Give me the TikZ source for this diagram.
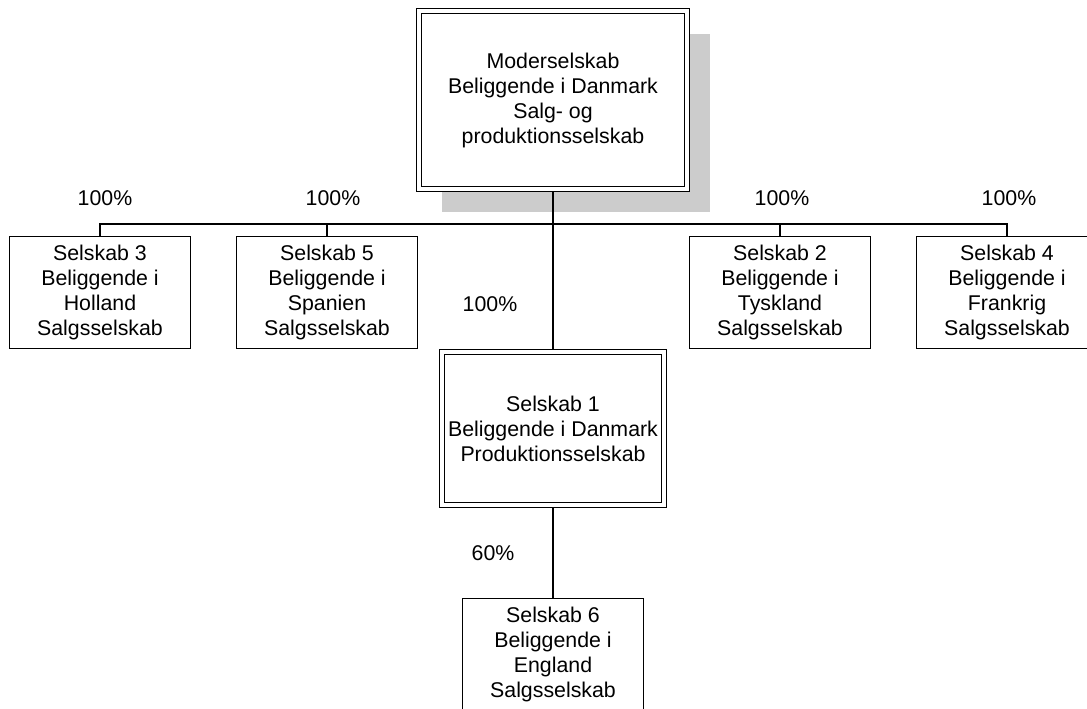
\documentclass[tikz,border=0pt]{standalone}
\usepackage{fontspec}
\setmainfont{Liberation Sans}
\usetikzlibrary{shadows}

\tikzset{
  firma/.style={draw, line width=1pt, minimum width=136pt, minimum height=84pt,
    inner sep=0pt, align=center, font=\fontsize{16}{18.75}\selectfont},
  hovedfirma/.style={firma, fill=white, double, line width=0.8pt, double distance=2.85pt},
  andel/.style={anchor=base, font=\fontsize{16}{18.75}\selectfont},
  kant/.style={line width=1pt},
}

\begin{document}
\begin{tikzpicture}[x=0.75pt,y=-0.75pt]
\useasboundingbox (0,0) rectangle (1087,709);

% Moderselskab med skygge
  \node[hovedfirma, minimum width=201pt, minimum height=133.5pt,
    general shadow={fill=black!20, shadow xshift=17pt, shadow yshift=-17pt}]
    (moder) at (553,100) {Moderselskab\\Beliggende i Danmark\\Salg- og\\produktionsselskab};

% Datterselskaber
  \foreach \x/\n/\land in {100/3/Holland, 327/5/Spanien, 780/2/Tyskland, 1007/4/Frankrig} {
    \node[firma] (s\n) at (\x,292.5) {Selskab \n\\Beliggende i\\\land\\Salgsselskab};
  }
  \node[hovedfirma, minimum width=166.5pt, minimum height=114.75pt]
    (s1) at (553,428.5) {Selskab 1\\Beliggende i Danmark\\Produktionsselskab};
  \node[firma] (s6) at (553,654.5) {Selskab 6\\Beliggende i\\England\\Salgsselskab};

% Forbindelser
  \coordinate (bus) at (553,224);
  \draw[kant] (s3.north) |- (bus) -| (s4.north);
  \foreach \n in {5,2} {
    \draw[kant] (s\n.north) -- (s\n.north |- bus);
  }
  \draw[kant, shorten <=1.8pt, shorten >=1.8pt] (moder.south) -- (s1.north);
  \draw[kant, shorten <=1.8pt] (s1.south) -- (s6.north);

% Ejerandele
  \foreach \x/\n in {105/a, 333/b, 782/c, 1009/d} {
    \node[andel] (p\n) at (\x,205) {100\%};
  }
  \node[andel] (pe) at (490,311) {100\%};
  \node[andel] (pf) at (493,560) {60\%};

\end{tikzpicture}
\end{document}
